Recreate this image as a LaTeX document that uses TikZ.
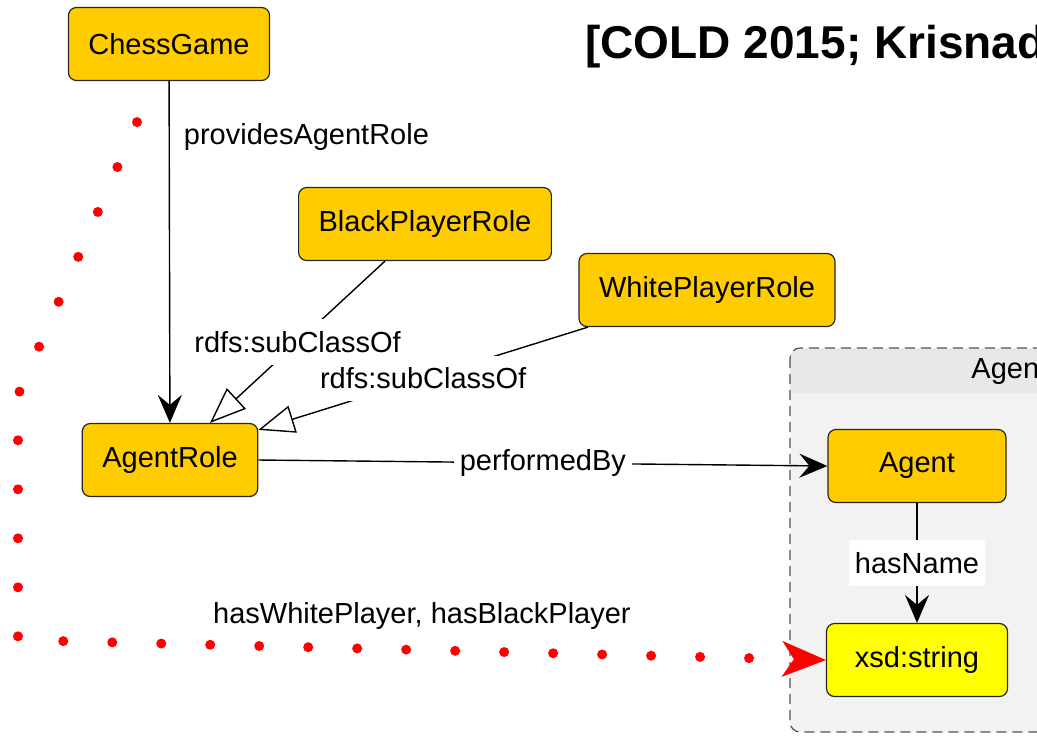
\documentclass[tikz,border=0pt]{standalone}
\usepackage{fontspec}
\setmainfont{Liberation Sans}
\usetikzlibrary{arrows.meta}
\definecolor{classGold}{HTML}{FFCC00}
\definecolor{dtYellow}{HTML}{FFFF00}
\definecolor{groupGray}{HTML}{F2F2F2}
\definecolor{headGray}{HTML}{E8E8E8}
\definecolor{edgeGray}{HTML}{262626}

\begin{document}
\begin{tikzpicture}[x=0.5pt, y=-0.5pt,
    cls/.style={draw=edgeGray, line width=0.6pt, fill=classGold, rounded corners=4pt,
        inner xsep=10pt, minimum height=36.5pt, font=\fontsize{14.5}{17}\selectfont},
    lbl/.style={font=\fontsize{14.5}{17}\selectfont, inner sep=1.5pt},
    gap/.style={lbl, fill=white, inner xsep=3pt, inner ysep=6pt},
    rel/.style={draw=black, line width=0.7pt, -{Stealth[length=14pt,width=12pt,inset=5pt]}},
    sub/.style={draw=black, line width=0.7pt, -{Triangle[open,length=18pt,width=14pt,fill=white]}},
    dots/.style={red, line width=5pt, line cap=round, dash pattern=on 0pt off 24.5pt,
        -{Stealth[length=22pt,width=18pt,inset=6pt,line width=0pt]}}]
    \useasboundingbox (0,0) rectangle (1037,735);
    \clip (0,0) rectangle (1037,735);

    % Group
    \fill[groupGray, rounded corners=5pt] (790,348) rectangle (1080,732);
    \fill[headGray] (790,393) [rounded corners=5pt] -- (790,348) -- (1080,348) [sharp corners] -- (1080,393) -- cycle;
    \draw[edgeGray!80, line width=0.6pt, dash pattern=on 5pt off 3pt, rounded corners=5pt] (790,348) rectangle (1080,732);
    \node[lbl, anchor=west] (grpTitle) at (968,372) {Agent};

    % Citation
    \node[font=\fontsize{23}{27}\selectfont\bfseries, anchor=base west, inner sep=0pt] (cite) at (585,58) {[COLD 2015; Krisnadhi et al.]};

    % Classes
    \node[cls] (game) at (169,44) {ChessGame};
    \node[cls] (black) at (425,224) {BlackPlayerRole};
    \node[cls] (white) at (707,290) {WhitePlayerRole};
    \node[cls] (role) at (170,460) {AgentRole};
    \node[cls, minimum width=89pt] (agent) at (917,466) {Agent};
    \node[cls, minimum width=90.5pt, fill=dtYellow] (str) at (917,660) {xsd:string};

    % Relations
    \draw[rel] (game) -- node[lbl, right, xshift=5.5pt, pos=0.163] {providesAgentRole} (role);
    \draw[sub] ([xshift=-20pt]black.south) -- node[gap] {rdfs:subClassOf} ([xshift=20pt]role.north);
    \draw[sub] ([xshift=-59.5pt]white.south) -- node[gap] {rdfs:subClassOf} ([yshift=-3.5pt]role.north east);
    \draw[rel] (role.east) -- node[gap] {performedBy} (agent.west);
    \draw[rel] (agent) -- node[gap] {hasName} (str);

    % Shortcut
    \coordinate (dotStart) at ([xshift=-16pt,yshift=-20.5pt]game.south);
    \draw[dots] (dotStart) -- (18,395) -- (18,640) -- node[lbl, text=black, above=6pt] {hasWhitePlayer, hasBlackPlayer} (str.west);
\end{tikzpicture}
\end{document}
